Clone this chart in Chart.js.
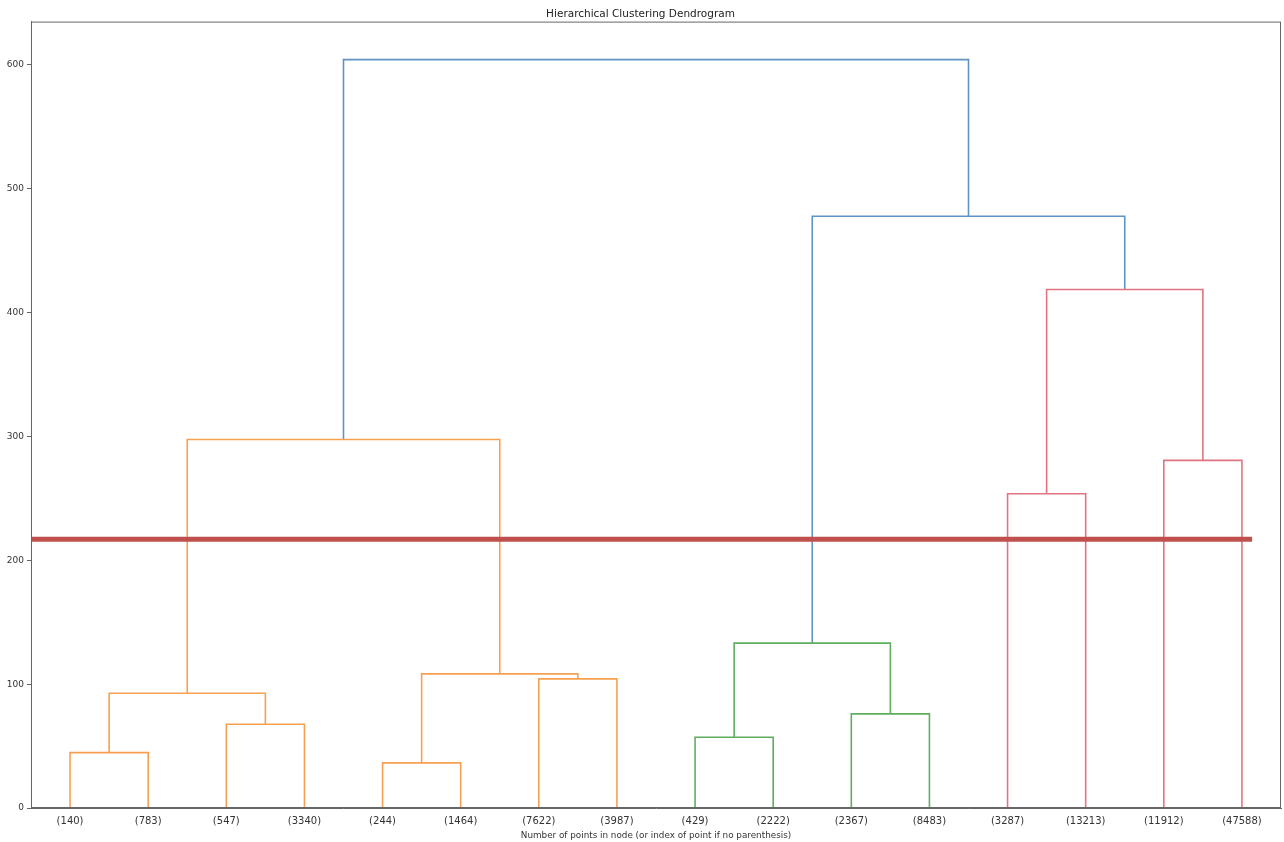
<!DOCTYPE html>
<html>
<head>
<meta charset="utf-8">
<script src="https://cdn.jsdelivr.net/npm/chart.js@4"></script>
<style>
  html, body { margin: 0; padding: 0; background: #fff; }
  #wrap { width: 1284px; height: 842px; }
</style>
</head>
<body>
<div id="wrap"><canvas id="myChart" width="1284" height="842"></canvas></div>
<script>
// leaves, left to right
const leafLabels = ['(140)', '(783)', '(547)', '(3340)', '(244)', '(1464)', '(7622)', '(3987)',
                    '(429)', '(2222)', '(2367)', '(8483)', '(3287)', '(13213)', '(11912)', '(47588)'];

// merges: node 16+k joins linkLeft[k] and linkRight[k] at linkHeight[k]
const linkLeft   = [0, 2, 16, 4, 6, 19, 18, 8, 10, 23, 12, 14, 26, 25, 22];
const linkRight  = [1, 3, 17, 5, 7, 20, 21, 9, 11, 24, 13, 15, 27, 28, 29];
const linkHeight = [44.7, 67.6, 92.7, 36.4, 104.3, 108.3, 297.5, 57.1, 76, 133.1, 253.8, 280.7, 418.7, 477.8, 604.3];
const linkCluster = [1, 1, 1, 1, 1, 1, 1, 2, 2, 2, 3, 3, 3, 0, 0];

const yTicks = [0, 100, 200, 300, 400, 500, 600];
const cutHeight = 217;

const clusterColors = ['#5f93c4', '#f7a050', '#5fae5f', '#e27480'];

let nodeX = leafLabels.map((_, i) => 5 + 10 * i);
let nodeY = leafLabels.map(() => 0);
let datasets = [];

// cut line first so it is drawn on top
datasets.push({
    data: [{x: 0, y: cutHeight}, {x: 156.3, y: cutHeight}],
    borderColor: '#c0504d',
    borderWidth: 5,
    pointRadius: 0,
    showLine: true
});

linkHeight.forEach((h, k) => {
    const a = linkLeft[k], b = linkRight[k];
    datasets.push({
        data: [
            {x: nodeX[a], y: nodeY[a]},
            {x: nodeX[a], y: h},
            {x: nodeX[b], y: h},
            {x: nodeX[b], y: nodeY[b]}
        ],
        borderColor: clusterColors[linkCluster[k]],
        borderWidth: 1.6,
        pointRadius: 0,
        showLine: true,
        tension: 0
    });
    nodeX.push((nodeX[a] + nodeX[b]) / 2);
    nodeY.push(h);
});

const frame = {
    id: 'frame',
    afterDraw(chart) {
        const {ctx, chartArea: c} = chart;
        ctx.save();
        ctx.strokeStyle = '#666';
        ctx.lineWidth = 1;
        ctx.strokeRect(c.left + 0.5, c.top + 0.5, c.right - c.left - 1, c.bottom - c.top - 1);
        ctx.restore();
    }
};

const config = {
    type: 'scatter',
    data: { datasets },
    options: {
        responsive: false,
        animation: false,
        layout: { padding: { left: 0, right: 3, top: 0, bottom: 0 } },
        plugins: {
            legend: { display: false },
            tooltip: { enabled: false },
            title: {
                display: true,
                text: 'Hierarchical Clustering Dendrogram',
                color: '#222',
                font: { family: 'DejaVu Sans', size: 10.5, weight: 'normal' },
                padding: { top: 8, bottom: 1 }
            }
        },
        scales: {
            x: {
                type: 'linear',
                min: 0,
                max: 160,
                afterBuildTicks: (scale) => { scale.ticks = leafLabels.map((_, i) => ({ value: 5 + 10 * i })); },
                afterFit: (scale) => { scale.height = 34; },
                ticks: {
                    autoSkip: false,
                    maxRotation: 0,
                    padding: 7,
                    color: '#333',
                    font: { family: 'DejaVu Sans', size: 10 },
                    callback: (v) => leafLabels[Math.round((v - 5) / 10)]
                },
                grid: { display: false, drawTicks: false },
                border: { display: true, color: '#666' },
                title: {
                    display: true,
                    text: 'Number of points in node (or index of point if no parenthesis)',
                    color: '#333',
                    font: { family: 'DejaVu Sans', size: 8.8 },
                    padding: { top: 0, bottom: 1 }
                }
            },
            y: {
                min: 0,
                max: 635,
                afterBuildTicks: (scale) => { scale.ticks = yTicks.map(v => ({ value: v })); },
                afterFit: (scale) => { scale.width = 31; },
                ticks: {
                    padding: 3,
                    color: '#333',
                    font: { family: 'DejaVu Sans', size: 9 }
                },
                grid: { drawOnChartArea: false, tickLength: 4, color: '#666' },
                border: { display: true, color: '#666' }
            }
        }
    },
    plugins: [frame]
};

const myChart = new Chart(document.getElementById('myChart'), config);
</script>
</body>
</html>
